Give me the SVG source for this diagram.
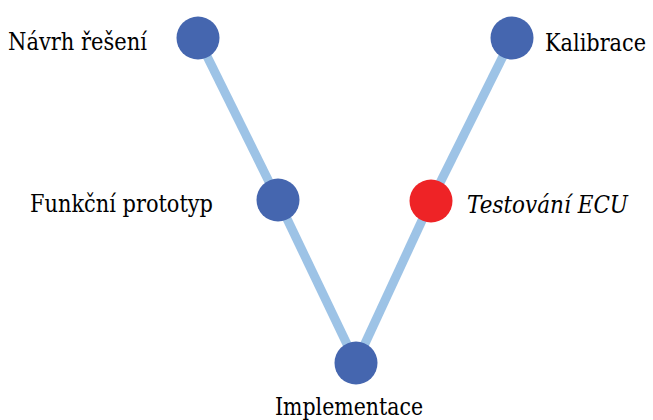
<svg xmlns="http://www.w3.org/2000/svg" width="653" height="420" viewBox="0 0 653 420">
<style>
.lbl{font-family:'DejaVu Serif',serif;font-size:24px;fill:#000}
.it{font-style:italic}
.edge{stroke:#9DC3E6;stroke-width:9;fill:none;stroke-linecap:butt}
.node{fill:#4566AF}
.red{fill:#EE2326}
</style>
<rect width="653" height="420" fill="#fff"/>
<g id="connectors">
<line class="edge" x1="198" y1="38" x2="278" y2="200"/>
<line class="edge" x1="278" y1="200" x2="356" y2="363"/>
<line class="edge" x1="512" y1="38" x2="431" y2="201"/>
<line class="edge" x1="431" y1="201" x2="356" y2="363"/>
</g>
<g id="navrh">
<circle class="node" cx="198" cy="38" r="21.5"/>
<text class="lbl" x="8" y="50" textLength="139" lengthAdjust="spacingAndGlyphs">Návrh řešení</text>
</g>
<g id="kalibrace">
<circle class="node" cx="512" cy="38" r="21.5"/>
<text class="lbl" x="545" y="51" font-size="21.5" textLength="101" lengthAdjust="spacingAndGlyphs">Kalibrace</text>
</g>
<g id="funkcni">
<circle class="node" cx="278" cy="200" r="21.5"/>
<text class="lbl" x="30" y="212" textLength="183" lengthAdjust="spacingAndGlyphs">Funkční prototyp</text>
</g>
<g id="testovani">
<circle class="red" cx="431" cy="201" r="21.5"/>
<text class="lbl it" x="467" y="213" textLength="161" lengthAdjust="spacingAndGlyphs">Testování ECU</text>
</g>
<g id="implementace">
<circle class="node" cx="356" cy="363" r="21.5"/>
<text class="lbl" x="275" y="415" textLength="148" lengthAdjust="spacingAndGlyphs">Implementace</text>
</g>
</svg>
